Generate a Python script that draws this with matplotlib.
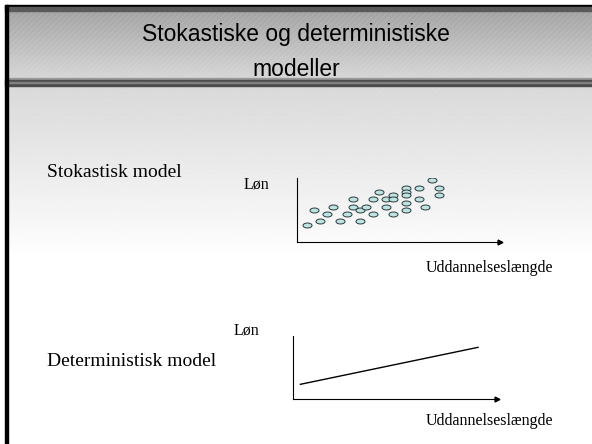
import matplotlib.pyplot as plt
import numpy as np
from matplotlib.path import Path

# slide texts
title_lines = ["Stokastiske og deterministiske", "modeller"]
model_labels = ["Stokastisk model", "Deterministisk model"]
y_label = "Løn"
x_label = "Uddannelseslængde"

# stochastic model: education (x) vs wage (y), arbitrary units 0-10
edu = [0.51, 0.82, 1.13, 1.48, 1.79, 2.12, 2.45, 2.76, 2.76, 3.09, 3.09,
       3.40, 3.73, 3.73, 4.05, 4.37, 4.37, 4.71, 4.71, 4.71, 5.35, 5.35,
       5.35, 5.35, 5.35, 6.00, 6.00, 6.32, 6.65, 6.98, 6.98]
wage = [2.66, 5.00, 3.23, 4.38, 5.52, 3.23, 4.38, 6.72, 5.52, 5.00, 3.23,
        5.52, 6.72, 4.38, 7.86, 6.72, 5.52, 7.30, 6.72, 4.38, 8.44, 7.86,
        7.30, 6.14, 5.00, 8.44, 6.72, 5.52, 9.64, 8.44, 7.30]

# deterministic model: straight line
det_edu = [0.36, 9.07]
det_wage = [2.33, 8.20]

W, H = 592, 444
plt.rcParams['font.family'] = ['Liberation Serif', 'DejaVu Serif']
plt.rcParams['hatch.linewidth'] = 0.5
fig = plt.figure(figsize=(W / 100, H / 100), dpi=100)

bg = fig.add_axes([0, 0, 1, 1])
bg.set_xlim(0, W)
bg.set_ylim(H, 0)
bg.axis('off')

# content area gradient (light grey -> white)
grad = np.concatenate([np.linspace(0.85, 1.0, 200), np.ones(200)])
bg.imshow(grad[:, None], cmap='gray', vmin=0, vmax=1, aspect='auto',
          extent=[5, W, 432, 88], zorder=0)
bg.add_patch(plt.Rectangle((5, 88), W, 170, facecolor='none', edgecolor='white',
                           hatch='//////', linewidth=0, alpha=0.12, zorder=1))

# title band gradient
tg = np.linspace(0.64, 0.84, 100)
bg.imshow(tg[:, None], cmap='gray', vmin=0, vmax=1, aspect='auto',
          extent=[5, W, 78, 11], zorder=2)
bg.add_patch(plt.Rectangle((5, 11), W, 67, facecolor='none', edgecolor='white',
                           hatch='//////', linewidth=0, alpha=0.15, zorder=3))

# borders
bg.add_patch(plt.Rectangle((5, 5), W, 2, color='black', zorder=4))
bg.add_patch(plt.Rectangle((5, 7), W, 4, color='#5a5a5a', zorder=4))
bg.add_patch(plt.Rectangle((5, 78), W, 2, color='#9a9a9a', zorder=4))
bg.add_patch(plt.Rectangle((5, 80), W, 6, color='#4c4c4c', zorder=4))
bg.add_patch(plt.Rectangle((5, 82), W, 1.2, color='#808080', zorder=4))
bg.add_patch(plt.Rectangle((5, 5), 3, H, color='black', zorder=5))

# title
sans = ['Liberation Sans', 'DejaVu Sans']
bg.text(296, 35, title_lines[0], fontsize=16.5, family=sans,
        ha='center', va='center', zorder=6)
bg.text(296, 69, title_lines[1], fontsize=16.5, family=sans,
        ha='center', va='center', zorder=6)

# model labels
bg.text(47, 172, model_labels[0], fontsize=14, ha='left', va='center', zorder=6)
bg.text(47, 361, model_labels[1], fontsize=14, ha='left', va='center', zorder=6)
bg.text(244, 184, y_label, fontsize=11.5, ha='left', va='center', zorder=6)
bg.text(234, 330, y_label, fontsize=11.5, ha='left', va='center', zorder=6)
bg.text(489, 268, x_label, fontsize=11.5, ha='center', va='center', zorder=6)
bg.text(489, 421, x_label, fontsize=11.5, ha='center', va='center', zorder=6)


def axes_px(left, top, right, bottom):
    ax = fig.add_axes([left / W, 1 - bottom / H, (right - left) / W, (bottom - top) / H])
    ax.set_facecolor('none')
    for s in ['top', 'right']:
        ax.spines[s].set_visible(False)
    for s in ['left', 'bottom']:
        ax.spines[s].set_linewidth(0.8)
    ax.set_xticks([])
    ax.set_yticks([])
    ax.set_xlim(0, 10)
    ax.set_ylim(0, 10)
    ax.plot(1, 0, '>', color='black', markersize=3.5, transform=ax.transAxes, clip_on=False)
    return ax


# ellipse marker
t = np.linspace(0, 2 * np.pi, 40)
ell = Path(np.column_stack([np.cos(t), 0.55 * np.sin(t)]), closed=True)

ax1 = axes_px(297, 178, 500, 242)
ax1.plot(edu, wage, linestyle='none', marker=ell, markersize=6.5,
         markerfacecolor='#bfe3e3', markeredgecolor='#2a3a3a', markeredgewidth=0.7)

ax2 = axes_px(293, 336, 497, 399)
ax2.plot(det_edu, det_wage, color='black', linewidth=1)

fig.savefig('out.png', dpi=100)
